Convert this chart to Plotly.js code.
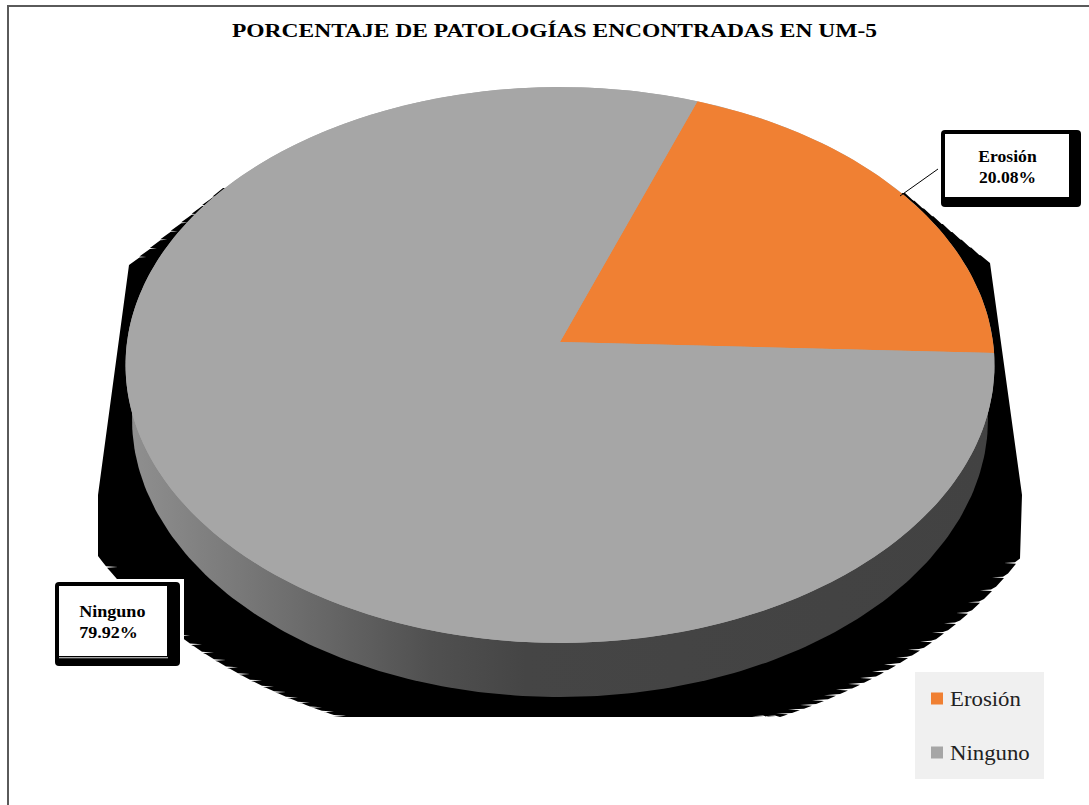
<!DOCTYPE html>
<html>
<head>
<meta charset="utf-8">
<script src="https://cdn.plot.ly/plotly-3.0.1.min.js"></script>
<style>html,body{margin:0;padding:0;background:#fff}#chart{width:1089px;height:805px}</style>
</head>
<body>
<div id="chart"></div>
<script>
// Pathologies found in unit UM-5
const categories = ["Erosión", "Ninguno"];
const percentages = [20.08, 79.92];
const sliceColors = ["#f08033", "#a6a6a6"];
const chartTitle = "PORCENTAJE DE PATOLOGÍAS ENCONTRADAS EN UM-5";

// Tilted disc: a unit circle seen in perspective, in page-sized axis units
const disc = {cx: 560, cy: 342, a: 433, b: 276.1, k: 0.0827, firstAngle: 20};
function project(deg) {
  const t = deg * Math.PI / 180, u = Math.sin(t), v = Math.cos(t), w = 1 + disc.k * v;
  return [disc.cx + disc.a * u / w, disc.cy - disc.b * v / w];
}
function wedge(startDeg, sweepDeg) {
  const xs = [disc.cx], ys = [disc.cy];
  const n = Math.max(2, Math.ceil(sweepDeg));
  for (let i = 0; i <= n; i++) {
    const p = project(startDeg + sweepDeg * i / n);
    xs.push(p[0]); ys.push(p[1]);
  }
  xs.push(disc.cx); ys.push(disc.cy);
  return {xs, ys};
}

// Lower rim of the extruded disc
const rimX = [], rimY = [];
for (let d = 0; d <= 360; d += 1) {
  const t = d * Math.PI / 180;
  rimX.push(560 + 428 * Math.cos(t));
  rimY.push(419 + 278 * Math.sin(t));
}

// Hard drop shadow: straight flanks and a toothed lower arc, flat at the bottom
function shadowOutline() {
  const arcY = dx => 387 + Math.sqrt(Math.max(0, 132461 - 0.4868 * dx * dx));
  const xs = [], ys = [];
  const flank = (x0, y0, x1, y1, cut) => {
    const steps = 9;
    for (let i = 0; i <= steps; i++) {
      const x = x0 + (x1 - x0) * i / steps, y = y0 + (y1 - y0) * i / steps;
      xs.push(x); ys.push(y);
      if (i > 0 && i < steps) { xs.push(x + cut, x); ys.push(y + 0.5, y + 1); }
    }
  };
  flank(223, 188, 129, 265, 7);
  xs.push(98); ys.push(495);
  let tooth = 0;
  for (let dx = 462; dx >= 226; dx -= 4) {
    const y = Math.min(717, arcY(dx));
    xs.push(560 - dx); ys.push(y);
    if (++tooth % 3 === 0) {
      xs.push(560 - dx + 12, 560 - dx + 1); ys.push(y + 0.7, y + 1.4);
    }
  }
  xs.push(333, 747); ys.push(717, 717);
  for (let dx = 196; dx <= 462; dx += 4) {
    const y = Math.min(717, arcY(dx));
    xs.push(560 + dx); ys.push(y);
    if (++tooth % 3 === 0) {
      xs.push(560 + dx - 12, 560 + dx - 1); ys.push(y - 0.7, y - 1.4);
    }
  }
  xs.push(1022);  ys.push(495);
  flank(990, 263, 905, 193, -7);
  return {xs, ys};
}

const shadow = shadowOutline();
const fullDisc = wedge(0, 360);
const traces = [
  {x: shadow.xs, y: shadow.ys, mode: "lines", fill: "toself", fillcolor: "#000",
   line: {width: 0}, hoverinfo: "skip", showlegend: false},
  {x: rimX, y: rimY, mode: "lines", fill: "toself", line: {width: 0}, hoverinfo: "skip", showlegend: false,
   fillgradient: {type: "horizontal", start: 132, stop: 988, colorscale: [
     [0, "#8f8f8f"], [0.18, "#6f6f6f"], [0.35, "#505050"], [0.46, "#454545"], [1, "#424242"]]}},
  {x: fullDisc.xs.slice(1, -1), y: fullDisc.ys.slice(1, -1), mode: "lines", fill: "toself", fillcolor: sliceColors[1],
   line: {width: 0}, hoverinfo: "skip", showlegend: false}
];

let angle = disc.firstAngle;
categories.forEach((name, i) => {
  const sweep = percentages[i] * 3.6, w = wedge(angle, sweep);
  traces.push({x: w.xs, y: w.ys, mode: "lines", fill: "toself", fillcolor: sliceColors[i],
    line: {width: 0}, name: name, text: percentages[i] + "%", hoverinfo: "text", showlegend: false});
  angle += sweep;
});

// Legend keys
categories.forEach((name, i) => {
  traces.push({x: [null], y: [null], mode: "markers", name: name, legendgroup: name,
    marker: {symbol: "square", size: 12, color: sliceColors[i]}});
});

const labelText = i => "<b>" + categories[i] + "<br>" + percentages[i].toFixed(2) + "%</b>";
const serif = "'Liberation Serif','Times New Roman',serif";
const rect = (x0, y0, x1, y1, fill, extra) => Object.assign(
  {type: "rect", xref: "x", yref: "y", x0, y0, x1, y1, fillcolor: fill, line: {width: 0}, layer: "above"}, extra || {});
const rule = (x0, y0, x1, y1, color, width) =>
  ({type: "line", xref: "x", yref: "y", x0, y0, x1, y1, line: {color, width}, layer: "above"});

const layout = {
  width: 1089, height: 805,
  margin: {l: 0, r: 0, t: 0, b: 0},
  paper_bgcolor: "#fff", plot_bgcolor: "#fff",
  title: {text: "<b>" + chartTitle + "</b>", font: {family: serif, size: 18, color: "#000"},
          x: 554.5 / 1089, xanchor: "center", xref: "paper", y: 1 - 31 / 805, yanchor: "middle", yref: "paper"},
  xaxis: {range: [0, 1089], visible: false, fixedrange: true},
  yaxis: {range: [805, 0], visible: false, fixedrange: true},
  showlegend: true,
  legend: {x: 917 / 1089, y: 1 - 679 / 805, xanchor: "left", yanchor: "top", bgcolor: "rgba(0,0,0,0)",
           font: {family: serif, size: 20, color: "#222"}, tracegroupgap: 25, itemsizing: "trace", itemwidth: 30},
  shapes: [
    // Chart frame: top and left edges only
    rule(7, 6, 1089, 6, "#5a5a5a", 2),
    rule(8, 6, 8, 805, "#5a5a5a", 2),
    // Legend panel
    rect(915, 672, 1044, 779, "#f0f0f0"),
    // Callout for the first slice
    rule(938, 169, 900, 196, "#000", 1),
    rect(941, 130, 1081, 207, "#000", {type: "path", path: "M945,130H1077Q1081,130 1081,134V203Q1081,207 1077,207H945Q941,207 941,203V134Q941,130 945,130Z"}),
    rect(945, 134, 1069, 197, "#fff"),
    // Callout for the second slice, with its white clearance
    rect(55, 579, 184, 640, "#fff"),
    rect(55, 582, 180, 666, "#000", {type: "path", path: "M59,582H176Q180,582 180,586V662Q180,666 176,666H59Q55,666 55,662V586Q55,582 59,582Z"}),
    rect(59, 586, 167, 656, "#fff"),
    rect(59, 657.2, 168, 658.2, "#ddd")
  ],
  annotations: [
    {x: 1007, y: 167, xref: "x", yref: "y", text: labelText(0), showarrow: false, align: "center",
     font: {family: serif, size: 16, color: "#000"}},
    {x: 112, y: 622, xref: "x", yref: "y", text: labelText(1), showarrow: false, align: "left",
     font: {family: serif, size: 16, color: "#000"}}
  ]
};

// The lettering is set wide: widen text groups about their own centres
function widen(node, sx) {
  const box = node.getBBox(), c = box.x + box.width / 2;
  node.setAttribute("transform", "translate(" + c + ",0) scale(" + sx + ",1) translate(" + (-c) + ",0)");
}

Plotly.newPlot("chart", traces, layout, {displayModeBar: false, responsive: false}).then(gd => {
  widen(gd.querySelector(".g-gtitle"), 1.306);
  const notes = gd.querySelectorAll("g.annotation");
  widen(notes[0], 1.1);
  widen(notes[1], 1.13);
  gd.querySelectorAll(".legendtext").forEach(t => {
    const x = parseFloat(t.getAttribute("x"));
    t.setAttribute("transform", "translate(" + (x - 7) + ",0) scale(1.14,1) translate(" + (-x) + ",0)");
  });
});
</script>
</body>
</html>
